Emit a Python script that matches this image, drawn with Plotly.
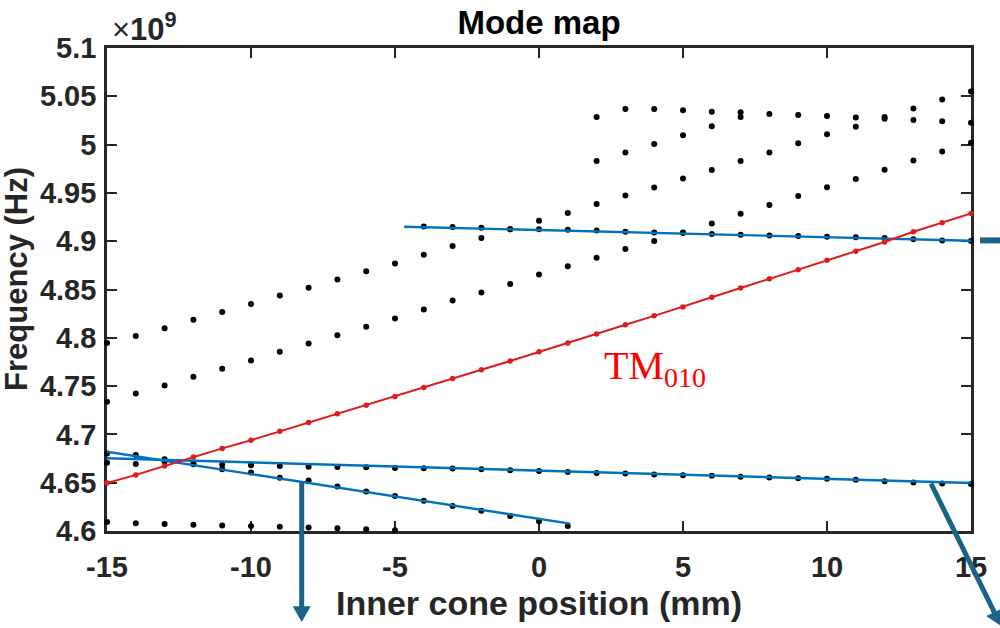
import plotly.graph_objects as go

# ---------------- data (frequencies in units of 1e9 Hz) ----------------
pos_all = list(range(-15, 16))

# TM010 mode (red)
tm010_y = [4.6497, 4.6581, 4.6673, 4.6765, 4.6855, 4.6940, 4.7032, 4.7124, 4.7213, 4.7301,
           4.7393, 4.7486, 4.7578, 4.7670, 4.7759, 4.7855, 4.7947, 4.8039, 4.8135, 4.8227,
           4.8320, 4.8420, 4.8515, 4.8610, 4.8705, 4.8804, 4.8897, 4.8992, 4.9098, 4.9190, 4.9286]

# upper diagonal family
diag1_y = [4.7947, 4.8018, 4.8100, 4.8186, 4.8268, 4.8350, 4.8439, 4.8517, 4.8603, 4.8688,
           4.8770, 4.8859, 4.8950, 4.9033, 4.9125, 4.9211, 4.9293, 4.9385, 4.9473, 4.9555,
           4.9648, 4.9737, 4.9829, 4.9918, 5.0013, 5.0106, 5.0184, 5.0285, 5.0375, 5.0467, 5.0549]

# second diagonal family
diag2_y = [4.7339, 4.7424, 4.7506, 4.7598, 4.7680, 4.7766, 4.7855, 4.7941, 4.8026, 4.8115,
           4.8200, 4.8292, 4.8387, 4.8469, 4.8558, 4.8654, 4.8740, 4.8828, 4.8920, 4.9002,
           4.9090, 4.9183, 4.9283, 4.9375, 4.9467, 4.9559, 4.9644, 4.9740, 4.9836, 4.9928, 5.0020]

# upper flat family (near 4.91)
flat1_x = list(range(-4, 16))
flat1_y = [4.9153, 4.9146, 4.9140, 4.9125, 4.9125, 4.9119, 4.9110, 4.9098, 4.9090, 4.9084,
           4.9074, 4.9067, 4.9060, 4.9053, 4.9047, 4.9040, 4.9033, 4.9020, 4.9006, 4.9002]

# top flat family (near 5.03)
flat2_x = list(range(2, 16))
flat2_y = [5.0287, 5.0369, 5.0369, 5.0355, 5.0341, 5.0335, 5.0318, 5.0307, 5.0297, 5.0280,
           5.0268, 5.0254, 5.0242, 5.0225]

# third diagonal segment
diag3_x = [2, 3, 4, 5, 6, 7]
diag3_y = [4.9829, 4.9918, 5.0006, 5.0098, 5.0190, 5.0287]

# lower long flat family (near 4.66)
low1_y = [4.6707, 4.6694, 4.6720, 4.6697, 4.6687, 4.6680, 4.6673, 4.6666, 4.6663, 4.6660,
          4.6653, 4.6650, 4.6646, 4.6639, 4.6629, 4.6622, 4.6612, 4.6601, 4.6594, 4.6584,
          4.6578, 4.6571, 4.6561, 4.6553, 4.6547, 4.6540, 4.6530, 4.6516, 4.6502, 4.6492, 4.6486]

# lower steep family
low2_x = list(range(-15, 2))
low2_y = [4.6803, 4.6786, 4.6742, 4.6690, 4.6639, 4.6605, 4.6550, 4.6523, 4.6461, 4.6410,
          4.6363, 4.6312, 4.6260, 4.6209, 4.6154, 4.6101, 4.6051]

# bottom family (near 4.605)
low3_x = list(range(-15, -4))
low3_y = [4.6092, 4.6079, 4.6072, 4.6065, 4.6058, 4.6051, 4.6045, 4.6035, 4.6028, 4.6017, 4.6007]

# blue linear fits (end points)
fit_upper_x = [-4.68, 15.0]
fit_upper_y = [4.9150, 4.9004]
fit_long_x = [-15.2, 15.0]
fit_long_y = [4.6755, 4.6497]
fit_steep_x = [-15.2, 1.08]
fit_steep_y = [4.6830, 4.6076]

xtick_vals = [-15, -10, -5, 0, 5, 10, 15]
xtick_text = ["-15", "-10", "-5", "0", "5", "10", "15"]
ytick_vals = [4.6, 4.65, 4.7, 4.75, 4.8, 4.85, 4.9, 4.95, 5.0, 5.05, 5.1]
ytick_text = ["4.6", "4.65", "4.7", "4.75", "4.8", "4.85", "4.9", "4.95", "5", "5.05", "5.1"]

# ---------------- styles / layout geometry ----------------
BLUE = "#0072BD"
RED = "#e01b1b"
ARROW = "#1d6388"
AX = "#262626"
FONT = "Liberation Sans"
W, H = 1000, 628
ML, MR, MT, MB = 107, 29, 48, 92
PW, PH = W - ML - MR, H - MT - MB


def paper(px, py):
    """pixel position -> paper coordinates (for decorations outside the axes)"""
    return (px - ML) / PW, (H - MB - py) / PH


fig = go.Figure()

dot = dict(color="black", size=6)
for xs, ys in [(pos_all, diag1_y), (pos_all, diag2_y), (flat1_x, flat1_y),
               (flat2_x, flat2_y), (diag3_x, diag3_y), (pos_all, low1_y),
               (low2_x, low2_y), (low3_x, low3_y)]:
    fig.add_trace(go.Scatter(x=xs, y=ys, mode="markers", marker=dot,
                             cliponaxis=False, showlegend=False, hoverinfo="skip"))

for xs, ys in [(fit_upper_x, fit_upper_y), (fit_long_x, fit_long_y), (fit_steep_x, fit_steep_y)]:
    fig.add_trace(go.Scatter(x=xs, y=ys, mode="lines", line=dict(color=BLUE, width=2.4),
                             showlegend=False, hoverinfo="skip"))

fig.add_trace(go.Scatter(x=pos_all, y=tm010_y, mode="lines+markers",
                         line=dict(color=RED, width=2), marker=dict(color=RED, size=5.5),
                         cliponaxis=False, showlegend=False, hoverinfo="skip"))

axis_common = dict(showline=True, linecolor=AX, linewidth=2.6, mirror="ticks",
                   ticks="inside", ticklen=10, tickwidth=2.4, tickcolor=AX,
                   showgrid=False, zeroline=False, layer="below traces",
                   tickfont=dict(family=FONT, size=29, color=AX, weight="bold"))

fig.update_xaxes(range=[-15, 15], tickvals=xtick_vals, ticktext=xtick_text,
                 ticklabelstandoff=8,
                 title=dict(text="Inner cone position (mm)", standoff=10,
                            font=dict(family=FONT, size=34, color=AX, weight="bold")),
                 **axis_common)
fig.update_yaxes(range=[4.6, 5.1], tickvals=ytick_vals, ticktext=ytick_text,
                 ticklabelstandoff=2, **axis_common)

fig.update_layout(
    width=W, height=H,
    margin=dict(l=ML, r=MR, t=MT, b=MB),
    paper_bgcolor="white", plot_bgcolor="white",
    title=dict(text="Mode map", x=0.5, xanchor="center", y=0.965, yanchor="middle",
               yref="container", xref="paper",
               font=dict(family=FONT, size=33, color="black", weight="bold")),
)

# y-axis title
fig.add_annotation(text="<b>Frequency (Hz)</b>", xref="paper", yref="paper",
                   x=-0.1047, y=0.521, xanchor="center", yanchor="middle", textangle=-90,
                   showarrow=False, font=dict(family=FONT, size=31, color=AX))

# exponent label
fig.add_annotation(text="×<b>10<sup>9</sup></b>", xref="paper", yref="paper", x=0.003, y=1.0,
                   xanchor="left", yanchor="bottom", showarrow=False, yshift=-1,
                   font=dict(family=FONT, size=31, color=AX))

# TM010 label
fig.add_annotation(text="TM<sub>010</sub>", xref="x", yref="y", x=2.2, y=4.769,
                   xanchor="left", yanchor="middle", showarrow=False,
                   font=dict(family="Liberation Serif", size=40, color="#ff0000"))

# ---------------- arrows (decorations, drawn as paper shapes) ----------------
def seg(p0, p1, width):
    x0, y0 = paper(*p0)
    x1, y1 = paper(*p1)
    fig.add_shape(type="line", xref="paper", yref="paper", x0=x0, y0=y0, x1=x1, y1=y1,
                  line=dict(color=ARROW, width=width), layer="above")


def head(base, tip, half):
    bx, by = base
    tx, ty = tip
    dx, dy = tx - bx, ty - by
    n = (dx * dx + dy * dy) ** 0.5
    ux, uy = -dy / n * half, dx / n * half
    pts = [paper(tx, ty), paper(bx + ux, by + uy), paper(bx - ux, by - uy)]
    path = "M {} {} L {} {} L {} {} Z".format(*[c for p in pts for c in p])
    fig.add_shape(type="path", xref="paper", yref="paper", path=path,
                  fillcolor=ARROW, line=dict(width=0), layer="above")


# vertical arrow below the steep fit
seg((301.7, 487), (301.7, 614), 5)
head((301.7, 612), (301.7, 628), 9)
# diagonal arrow from the long fit
seg((931, 488), (994.5, 618.5), 5)
head((994.3, 618), (1001.0, 632.0), 9)
# horizontal stub to the right of the upper fit
seg((980, 242.4), (1012, 242.4), 6)

fig.write_html("out.html")
